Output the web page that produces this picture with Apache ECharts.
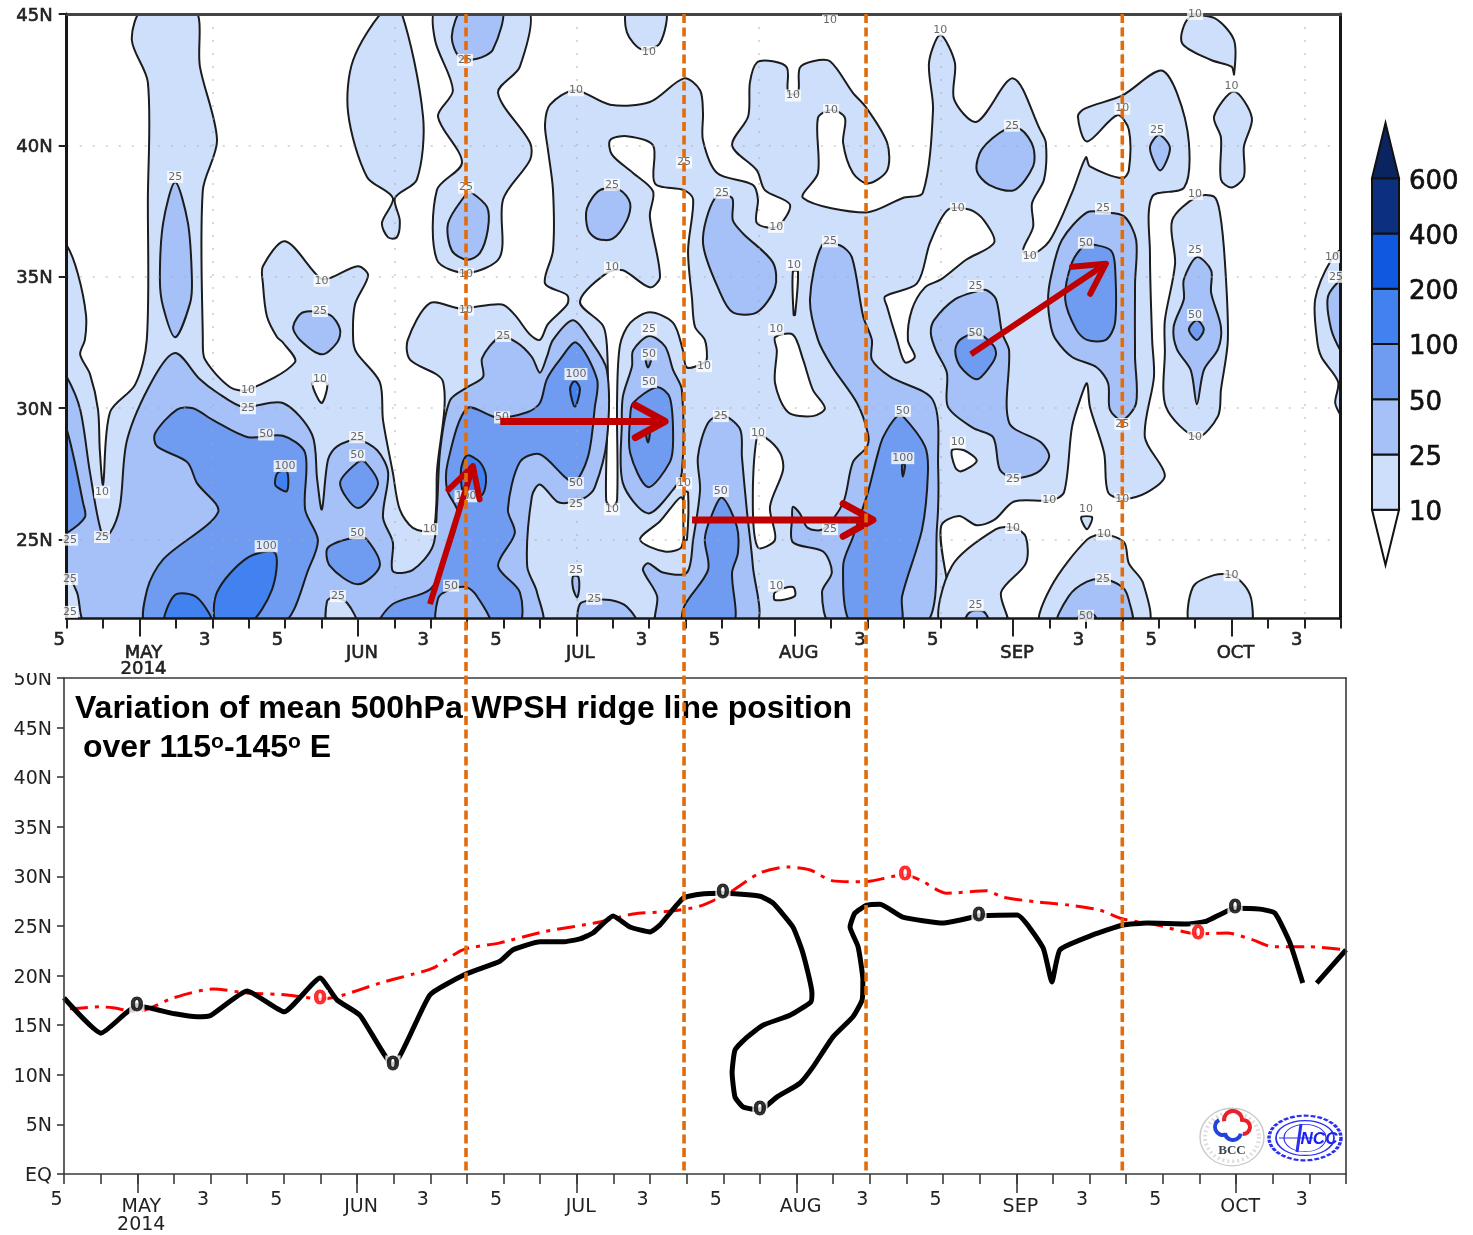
<!DOCTYPE html>
<html><head><meta charset="utf-8">
<style>html,body{margin:0;padding:0;background:#fff}#c{width:1473px;height:1235px}</style>
<script src="https://cdn.jsdelivr.net/npm/echarts@6/dist/echarts.min.js"></script>
</head><body><div id="c"></div>
<script>
// ---------- axis values (x = pentad index from the left edge, y = latitude) ----------
const pentadTicks = [0,1,2,3,4,5,6,7,8,9,10,11,12,13,14,15,16,17,18,19,20,21,22,23,24,25,26,27,28,29,30,31,32,33,34,35];
const pentadLabelAt = [0,4,6,10,12,16,18,22,24,28,30,34];
const pentadLabelText = ['5','3','5','3','5','3','5','3','5','3','5','3'];
const monthAt = [2,8,14,20,26,32];
const monthText = ['MAY','JUN','JUL','AUG','SEP','OCT'];
const yearText = '2014';
const gridDotsX = [4,9,14,19,24,29,34];
const gridDotsY = [25,30,35,40];
const topLatTicks = [25,30,35,40,45];
const bottomLatTicks = [0,5,10,15,20,25,30,35,40,45,50];

// ---------- contour regions, as [pentad, latitude] ----------
const contour10 = [
 [[-.2,21.7],[-.2,36.2],[0,36.2],[.31,35.1],[.53,33.55],[.5,32.6],[.37,32.05],[.64,31.3],[.86,29.95],[.91,28.4],[1,27.1],[1.19,29.85],[1.88,30.9],[2.2,32.6],[2.23,37.95],[2.23,42.4],[1.79,44],[2.1,45.2],[3.52,45.2],[3.66,43],[4.13,40.2],[3.74,38.3],[3.74,32.6],[3.8,31.85],[4.49,30.8],[4.98,30.7],[6.27,31.75],[5.94,32.5],[5.78,32.7],[5.5,33.5],[5.39,34.75],[5.39,35.4],[6,36.35],[6.96,34.95],[7.23,34.95],[8,35.4],[8.28,35.05],[7.92,33.95],[7.87,32.6],[7.97,32.1],[8.6,31],[8.69,29.55],[8.96,27.55],[9.15,26.15],[9.51,25.45],[10.04,25.35],[10.15,26.25],[10.17,27.55],[10.34,31],[9.43,31.85],[9.37,32.6],[9.98,34],[10.8,33.8],[11.96,33.95],[12.31,33.55],[12.73,32.8],[13,32.6],[13.22,33.2],[13.75,33.95],[13.75,34.3],[13.14,34.75],[13.36,36],[13.36,38.3],[13.22,39.85],[13.14,40.8],[13.28,41.55],[13.96,42.1],[14.93,41.55],[16.02,41.65],[16.96,42.55],[17.4,42.1],[17.48,41.25],[17.48,40.2],[17.87,38.95],[18.85,38.5],[18.99,37.95],[18.96,37.05],[19.51,36.9],[19.87,37.75],[19.18,38.3],[18.96,39.05],[18.28,40],[18.72,41.1],[18.77,42.4],[18.96,43.15],[19.4,43.2],[19.79,42.95],[19.82,42],[20.09,42],[20.14,42.95],[20.5,43.2],[20.97,43.2],[21.6,42],[21.96,41.45],[22.54,40.1],[22.54,39.05],[22.01,38.55],[21.6,38.95],[21.33,40.1],[21.38,41.05],[21.02,41.35],[20.64,41.05],[20.64,38.95],[20.23,38],[21.96,37.45],[22.97,38],[23.52,38.2],[23.8,41.35],[23.69,43.15],[24,44.2],[24.4,43.15],[24.38,41.75],[25,40.9],[26,42.55],[26.74,40.6],[26.9,40.1],[26.85,38.7],[26.52,37.8],[26.55,36.9],[26.27,36],[26.46,35.8],[26.99,36.35],[27.62,38.2],[28,39.55],[28.11,39.2],[29,38.75],[29.18,39.05],[29.18,40.6],[28.86,41.15],[28.03,40.15],[27.78,41.1],[27.97,41.4],[29,41.9],[30.06,42.85],[30.5,42],[30.83,40.1],[30.7,38.4],[29.82,38.05],[29.76,35.9],[29.82,32.6],[29.87,31.2],[29.62,28.9],[30.17,27.45],[29.68,26.8],[29.05,26.55],[28.61,26.8],[28.5,28.3],[28.11,30.05],[28.03,30.95],[27.87,30.45],[27.62,29.3],[27.4,26.8],[27.04,26.5],[26.03,26.45],[25.48,25.75],[25,25.55],[24.51,25.9],[24.02,25.5],[23.94,21.75]],
 [[10.17,45.2],[10.12,44],[10.61,42.1],[10.2,41.1],[10.86,39.35],[10.17,38.3],[10.17,35.65],[11,35.15],[11.9,35.75],[11.99,37.95],[12.73,39.45],[12.73,40.1],[11.85,42],[12.45,43],[12.65,45.2]],
 [[8.74,45.2],[7.87,43.25],[7.73,41.25],[8.25,38.8],[8.96,38],[8.66,37.05],[8.83,36.5],[9.07,36.5],[9.15,37.15],[9.02,38],[9.62,38.7],[9.79,41.1],[9.16,45.2]],
 [[15.42,45.2],[15.39,44.3],[15.8,43.65],[16.3,43.9],[16.44,45.2]],
 [[30.83,44.85],[30.64,43.9],[31.44,43.25],[32,43],[32.07,42.7],[32.07,44],[31.52,44.85]],
 [[32.07,42.05],[31.52,41.1],[31.71,40.3],[31.71,38.7],[32,38.4],[32.34,38.8],[32.34,39.95],[32.56,41.05]],
 [[31.05,38.05],[30.37,37.15],[30.45,35.5],[30.17,33.35],[30.17,32.2],[30.2,30.05],[31.05,28.9],[31.63,29.7],[31.71,30.7],[31.9,32.6],[31.82,35.55],[31.68,37.45],[31.52,38.05]],
 [[35.1,36.05],[34.74,35.65],[34.3,34.15],[34.35,32.6],[34.47,31.95],[34.93,31],[34.85,30.2],[35.03,29.65],[35.1,29.55]],
 [[24.02,21.75],[24.32,24],[25.53,25.4],[26.03,25.45],[26.35,25.1],[26.35,24.1],[25.67,23],[25.83,21.75]],
 [[26.77,21.75],[27.04,23.2],[28.03,25],[28.5,25.2],[29.05,24.9],[29.18,24.1],[29.57,23.35],[29.68,21.75]],
 [[30.89,21.75],[30.94,23.2],[31.52,23.65],[32,23.65],[32.39,23.2],[32.56,22.6],[32.5,21.75]],
 [[27.87,25.85],[28.03,25.4],[28.17,25.85]]
];
const belowTen = [
 [[14.1,34.05],[14.84,35.15],[15.28,35.25],[16.02,34.6],[16.3,35],[16.02,37.3],[16.11,38.25],[15.56,38.95],[14.98,39.65],[14.93,40.2],[15.39,40.35],[16.11,40],[16.16,38.55],[16.96,38.3],[17.21,37.95],[17.07,36],[17.18,34.15],[17.26,33.1],[17.53,32.6],[17.59,31.95],[17.53,31.75],[17.04,31.55],[16.93,32.2],[16.66,33.25],[16.02,33.65],[15.48,33.25],[15.2,32.4],[15.12,30.3],[15.12,26.5],[14.98,26.25],[14.82,26.5],[14.87,30.3],[14.84,32.4],[14.73,33.15]],
 [[22.48,34.25],[23.36,34.75],[23.72,36.3],[24.21,37.55],[24.82,37.55],[25.2,37.15],[25.48,36.3],[24.71,35.65],[24.02,34.9],[23.58,34.6],[23.22,33.75],[23.11,32.6],[23.3,31.95],[23.03,31.75],[22.81,32.6],[22.54,33.85]],
 [[19.46,32.7],[19.95,32.8],[20.23,31.85],[20.5,30.7],[20.83,30],[20.5,29.7],[19.82,29.85],[19.46,30.95],[19.51,32.2]],
 [[18.96,28.9],[18.85,26.25],[18.99,24.7],[19.46,25],[19.32,26.25],[19.68,27.65],[19.6,28.3],[19.18,28.9]],
 [[19.95,35.2],[19.97,33.55],[20.01,33.55],[20.09,35.2]],
 [[19.46,23],[19.46,22.7],[20,22.85],[19.95,23.2]],
 [[15.75,25],[16.3,25.7],[16.9,26.6],[16.9,24.75],[16.43,24.55]],
 [[24.32,28.4],[24.41,27.75],[24.57,27.6],[25,28],[24.65,28.4]],
 [[6.77,31],[6.82,30.6],[7.01,30.2],[7.15,30.95]],
 [[16.96,26.8],[17.07,26.8],[17.04,25],[16.96,25]]
];
const contour25 = [
 [[-.2,31.4],[0,31.2],[.37,29.95],[.64,27.55],[.97,25.2],[1.19,25.25],[1.46,26.25],[1.66,28.8],[2.37,31.1],[2.98,32.1],[3.66,31.1],[4.13,30.6],[4.85,30.05],[5.94,30.2],[6.74,29],[6.88,27.3],[7.01,26.15],[7.18,28.05],[7.43,28.55],[8,28.8],[8.53,28.4],[8.83,27.55],[8.69,25.85],[8.96,24.9],[8.96,23.8],[9.51,23.85],[10.06,24.75],[10.17,26.15],[10.26,28.4],[10.53,30.3],[11,30.8],[11.44,31.2],[11.41,31.9],[11.9,32.7],[12.37,32.5],[12.78,31.95],[13,31.35],[13.19,31.95],[13.36,32.6],[13.91,33.35],[14.38,32.6],[14.84,31.45],[14.84,28.8],[14.51,27],[14.24,26.6],[13.77,26.4],[13.47,26.45],[13,27.1],[12.78,26.65],[12.65,24],[12.92,23],[13,21.75],[.59,21.75],[.28,23],[0,23.75],[-.2,23.85]],
 [[15.56,32.2],[15.53,31.6],[15.28,30.45],[15.25,29.45],[15.28,27.15],[15.97,26],[16.66,26.9],[16.9,27.55],[16.9,30.7],[16.66,31.45],[16.44,32.35],[16,32.75]],
 [[16.22,21.75],[16.22,22.85],[15.83,23.85],[15.97,24.1],[16.38,23.75],[17.04,23.75],[17.21,25],[17.4,26.9],[17.34,28.15],[17.62,29.45],[18,29.75],[18.5,29.2],[18.55,28.15],[18.69,26.05],[18.85,24],[18.91,21.75]],
 [[21.02,21.75],[20.75,23],[21.02,23.75],[20.78,24.55],[19.95,24.9],[19.93,25.85],[19.95,26.25],[20.14,26],[20.36,25.45],[20.78,25.4],[21.33,26.4],[21.6,27.95],[21.99,28.55],[22.01,29.05],[21.71,30.2],[21.02,31.6],[20.64,32.6],[20.42,34.15],[20.75,36.2],[21.24,36.2],[21.57,35.75],[21.88,33.5],[22.12,32.6],[22.12,31.85],[22.62,31.2],[23.8,30.3],[23.94,27.8],[23.91,25.5],[23.58,21.75]],
 [[2.98,38.6],[2.65,37.05],[2.56,34.9],[2.65,33.85],[2.98,32.7],[3.39,34],[3.44,34.9],[3.33,37.05]],
 [[6.5,33.65],[6.22,33.1],[6.41,32.6],[7.01,32.05],[7.43,32.5],[7.51,33],[7.23,33.55]],
 [[14.65,38.3],[14.29,37.6],[14.32,36.8],[14.57,36.45],[15,36.45],[15.39,37.15],[15.48,37.8],[15.2,38.3]],
 [[17.81,38],[17.48,36.3],[17.95,34.4],[18.3,33.65],[18.96,33.65],[19.46,34.6],[19.4,35.55],[18.58,36.65],[18.3,37.15],[18.28,38]],
 [[25.78,40.6],[26.22,40.6],[26.55,39.95],[26.55,39.2],[26.03,38.3],[25.34,38.5],[25,39.05],[25.14,39.85]],
 [[30.01,40.4],[29.76,39.9],[30.04,39.05],[30.31,39.9]],
 [[28.5,37.45],[28.03,37.45],[27.34,36.4],[27.04,35],[26.96,34.1],[27.04,33.1],[27.18,32.6],[27.62,31.95],[28.3,31.55],[28.61,30.95],[28.66,29.95],[29,29.55],[29.38,30.2],[29.35,31.95],[29.35,34.75],[29.38,36.4],[29.05,37.3]],
 [[25,34.45],[24.41,34.15],[23.83,33.35],[23.74,32.85],[23.88,32.2],[24.18,31.35],[24.21,30.05],[24.9,29.25],[25.45,28.9],[25.64,27.65],[26.03,27.35],[26.66,27.55],[26.99,28.15],[26.77,28.7],[25.89,29.45],[25.89,32.2],[25.7,32.85],[25.53,34.15],[25.26,34.5]],
 [[10.89,45.2],[10.58,44.15],[10.8,43.35],[11.27,43.3],[11.71,43.65],[11.96,45.2]],
 [[11,38.2],[10.48,37.05],[10.58,36],[11,35.65],[11.35,35.9],[11.57,36.8],[11.55,37.65],[11.08,38.25]],
 [[13.91,23.6],[13.91,23.15],[14.02,22.8],[14.08,23.15],[14.05,23.6]],
 [[14.1,21.75],[14.1,22.55],[14.46,22.7],[14.93,22.7],[15.39,22.45],[15.67,21.75]],
 [[24.65,21.75],[24.82,22.25],[25.2,22.25],[25.34,21.75]],
 [[27.23,21.75],[27.53,22.85],[28.03,23.4],[28.5,23.5],[29,23.2],[29.18,22.7],[29.24,21.75]],
 [[31.05,35.75],[30.69,34.9],[30.69,34.15],[30.41,33.1],[30.5,32.25],[30.88,31.45],[31.05,30.15],[31.24,31.45],[31.63,32.25],[31.71,33.1],[31.44,34.4],[31.44,35.25]],
 [[35.03,34.95],[34.65,34.25],[34.74,33],[35.03,32.1],[35.1,32.1],[35.1,34.95]]
];
const patchBelow25 = [
 [[7.18,21.75],[7.15,22.65],[7.32,22.8],[7.7,22.6],[7.97,21.75]]
];
const contour50 = [
 [[-.2,29.35],[0,29.2],[.45,26.4],[.5,25.85],[0,25.25],[-.2,25.25]],
 [[3.03,29.95],[3.47,30],[4.02,29.55],[4.98,28.9],[5.94,28.95],[6.55,28.3],[6.55,26.15],[6.9,25],[6.68,24],[5.86,21.75],[2.21,21.75],[2.21,23.1],[2.65,24.25],[4.16,26.05],[3.58,27.15],[3.31,27.95],[2.48,28.55],[2.43,29.05]],
 [[8,27.95],[7.51,27.15],[8,26.2],[8.55,27.1],[8.2,27.95]],
 [[7.18,24.7],[7.23,24],[8,23.3],[8.6,24],[8.25,25],[7.97,25.1]],
 [[8.6,21.75],[8.96,22.55],[9.98,23.1],[10.39,24.25],[10.75,26],[10.45,26.9],[10.47,27.95],[11,30],[11.82,29.65],[12.65,29.85],[13,30.2],[13.19,31.1],[13.55,31.85],[14,32.5],[14.57,31.1],[14.51,30.05],[14.32,28.15],[13.91,27.2],[13,28.25],[12.45,27.95],[12.12,26.15],[12.31,25.25],[11.85,24],[12.45,23],[12.37,21.75]],
 [[15.97,27],[15.48,28.3],[15.48,29.7],[15.56,30.2],[16.22,30.8],[16.57,30.4],[16.66,28.8],[16.57,27.95]],
 [[15.91,31.85],[15.97,31.55],[16.05,31.85]],
 [[16.96,21.75],[16.96,22.45],[17.62,23.85],[17.53,25],[17.67,25.75],[18,26.6],[18.41,25.5],[18.44,24.5],[18.28,23.75],[18.3,21.75]],
 [[21.57,21.75],[21.33,24],[21.6,25.1],[22.01,26.8],[22.26,28.15],[22.43,28.9],[22.81,29.7],[22.97,29.7],[23.58,28.55],[23.66,27.55],[23.5,25.4],[22.95,22.85],[22.9,21.75]],
 [[28.3,36.2],[28.69,36],[28.8,35.4],[28.8,33.25],[28.55,32.6],[28.03,32.6],[27.73,33],[27.43,34.15],[27.62,35.55],[27.97,36.2]],
 [[25,32.85],[25.45,32.4],[25.53,32.05],[25.37,31.6],[25,31.1],[24.54,31.6],[24.41,32.2],[24.54,32.6]],
 [[27.78,21.75],[27.84,22.15],[28.22,22.15],[28.3,21.75]],
 [[31.05,33.35],[30.83,33],[31.05,32.6],[31.24,33]]
];
const patchBelow50 = [
 [[10.2,21.75],[10.2,22.75],[10.45,23.05],[10.97,23.2],[11.27,22.85],[11.63,21.75]]
];
const contour100 = [
 [[5.72,27.15],[5.8,27.55],[6.05,27.6],[6.05,26.85],[5.78,27]],
 [[4.13,21.75],[4.13,23],[4.95,24.3],[5.72,24.5],[5.64,23.1],[4.98,21.75]],
 [[2.7,21.75],[2.98,22.9],[3.58,22.8],[3.99,21.75]],
 [[11,28.2],[11.35,27.95],[11.52,27.4],[11.41,26.7],[10.94,26.65],[10.83,27.65]],
 [[13.91,31],[13.83,30.7],[13.96,30.05],[14.1,30.7],[14,31]],
 [[15.91,29.1],[15.97,28.7],[16.02,29.1]],
 [[22.95,27.85],[22.97,27.4],[23.03,27.85]]
];
const contourLabels = [
 [2.98,38.8,'25'],[7,34.85,'10'],[6.96,33.7,'25'],[6.96,31.1,'10'],[4.98,30.7,'10'],[4.98,30,'25'],[5.48,29,'50'],[6,27.8,'100'],[7.98,28.9,'25'],[7.98,28.2,'50'],[7.98,25.25,'50'],[5.48,24.75,'100'],[.97,25.1,'25'],[.97,26.8,'10'],[7.45,22.85,'25'],[9.98,25.4,'10'],[10.56,23.25,'50'],[10.97,26.65,'100'],[10.94,43.25,'25'],[10.97,38.4,'25'],[10.97,35.1,'10'],[10.97,33.75,'10'],[11.99,32.75,'25'],[11.96,29.65,'50'],[13.99,31.3,'100'],[13.99,27.15,'50'],[13.99,26.35,'25'],[14.98,26.15,'10'],[13.99,23.85,'25'],[14.49,22.75,'25'],[13.99,42.1,'10'],[14.98,35.35,'10'],[14.98,38.5,'25'],[16,43.55,'10'],[16.96,39.35,'25'],[16,33,'25'],[16,32.05,'50'],[16,31,'50'],[17.51,31.6,'10'],[16.96,27.15,'10'],[18,38.2,'25'],[17.97,29.7,'25'],[17.97,26.85,'50'],[18.99,29.05,'10'],[19.49,36.9,'10'],[19.95,41.9,'10'],[21,41.35,'10'],[20.97,44.75,'10'],[19.98,35.45,'10'],[19.49,33,'10'],[20.97,36.35,'25'],[20.97,25.4,'25'],[19.49,23.25,'10'],[24,44.4,'10'],[22.97,29.9,'50'],[22.97,28.1,'100'],[24.97,34.65,'25'],[24.48,37.6,'10'],[24.97,32.85,'50'],[24.48,28.7,'10'],[26,27.3,'25'],[26.99,26.5,'10'],[26.46,35.8,'10'],[25.97,40.75,'25'],[29,41.4,'10'],[28.47,37.6,'25'],[28,36.3,'50'],[29.95,40.6,'25'],[31,38.15,'10'],[31,36,'25'],[31,33.55,'50'],[31,28.9,'10'],[32,42.25,'10'],[31,45,'10'],[28,26.15,'10'],[28.5,25.2,'10'],[26,25.45,'10'],[29,26.55,'10'],[29,29.4,'25'],[28.47,23.5,'25'],[28,22.1,'50'],[24.97,22.5,'25'],[32,23.65,'10'],[34.76,35.75,'10'],[34.87,35,'25'],[.09,25,'25'],[.09,23.5,'25'],[.09,22.25,'25']
];
const levelColors = {c10:'#CDDFFB', c25:'#A6C1F7', c50:'#6F9CF0', c100:'#4181F0'};

// ---------- ridge-line series, [pentad, latitude], some of it runs backwards in time ----------
const ridgeObserved = [[0,17.75],[1.01,14.2],[1.99,16.95],[3.03,16.15],[3.63,15.85],[3.99,15.95],[5,18.45],[6.01,16.35],[6.99,19.75],[7.45,17.55],[8.08,16],[8.98,11],[9.99,18.05],[10.97,20.15],[11.9,21.45],[12.26,22.6],[13,23.4],[13.62,23.4],[14.09,23.7],[14.44,24.3],[14.99,26],[15.45,24.9],[16,24.4],[16.27,25.1],[16.9,27.8],[17.36,28.2],[17.99,28.3],[19,28],[19.36,27.3],[19.9,24.9],[20.17,22.3],[20.42,18.25],[20.39,17.35],[19.82,16],[19.08,15],[18.65,13.8],[18.32,12.5],[18.24,10.2],[18.32,7.75],[18.54,6.75],[19,6.45],[19.46,7.75],[20.09,9.15],[20.45,10.8],[20.99,13.8],[21.54,15.85],[21.79,17.55],[21.81,19.55],[21.68,22.9],[21.46,24.9],[21.59,26.3],[21.92,27.1],[22.28,27.2],[22.9,25.9],[24,25.3],[24.98,26],[26.02,26.1],[26.73,22.8],[26.97,19.35],[27.19,22.6],[28.09,24.1],[28.91,25.1],[29.57,25.3],[30.66,25.2],[31.2,25.5],[31.97,26.8],[32.65,26.7],[33.06,26.3],[33.47,23.3],[33.82,19.25],['-','-'],[34.2,19.25],[35,22.6]];
const ridgeClimatology = [[.16,16.65],[.98,16.85],[1.34,16.75],[1.99,16.35],[2.43,16.85],[2.98,17.75],[4.07,18.65],[5,18.25],[6.09,18.05],[6.99,17.65],[7.45,17.85],[8.63,19.25],[9.53,20.15],[10.07,20.75],[10.89,22.6],[11.9,23.3],[13.08,24.4],[14.63,25.4],[15.53,26.2],[16.54,26.5],[17.36,27],[18.18,28.4],[19,30.35],[19.74,30.95],[20.37,30.65],[20.99,29.55],[21.81,29.45],[22.96,30.15],[23.37,29.65],[24.1,28.3],[25.2,28.55],[25.63,27.9],[26.65,27.4],[27.46,27.1],[28.28,26.6],[28.91,25.7],[29.84,25.1],[30.96,24.2],[31.75,24.3],[32.46,23.6],[33.01,22.9],[34.02,22.9],[35,22.6]];
const zeroLabelsObserved = [[1.99,16.95],[8.98,11],[17.99,28.3],[19,6.45],[24.98,26],[31.97,26.8]];
const zeroLabelsClimatology = [[6.99,17.6],[22.96,30.15],[30.96,24.2]];

// ---------- annotations ----------
const onsetPentads = [10.97,16.96,21.96,29];
const arrowsFrom = [[9.98,22.55],[11.91,29.5],[17.18,25.75],[24.84,32.05]];
const arrowsTo = [[11.16,27.8],[16.44,29.5],[22.15,25.75],[28.55,35.5]];
const colorbarLevels = ['10','25','50','100','200','400','600'];
const colorbarColors = ['#FFFFFF','#CDDFFB','#A6C1F7','#6F9CF0','#4181F0','#1058E0','#0D2F80','#0A2460'];
const titleLine1 = 'Variation of mean 500hPa WPSH ridge line position';
const titleLine2 = 'over 115{s|o}-145{s|o} E';

// ---------- chart ----------
const FONT = 'DejaVu Sans';
const chart = echarts.init(document.getElementById('c'), null, {renderer:'canvas'});

function polySeries(list, fill, z){
  return {type:'custom', xAxisIndex:0, yAxisIndex:0, clip:true, silent:true, z:z,
    data:list.map((_,i)=>[i,0]),
    renderItem:(p,api)=>{
      const pts = list[api.value(0)].map(q=>api.coord(q));
      return {type:'polygon', shape:{points:pts, smooth:0.3},
        style:{fill:fill, stroke:'#1c1c1c', lineWidth:2}};
    }};
}
function pentadLabels(border, size){
  return {customValues:pentadLabelAt, fontFamily:FONT,
    formatter:v=>'{n|'+pentadLabelText[pentadLabelAt.indexOf(v)]+'}',
    rich:{n:{fontFamily:FONT,fontSize:size,color:'#222',textBorderColor:'#222',textBorderWidth:border,padding:[0,15,0,0]}}};
}
function monthLabels(border, size, lh){
  return {customValues:monthAt,
    formatter:v=>{const i=monthAt.indexOf(v);
      return i===0 ? '{m|'+monthText[i]+'}\n{m|'+yearText+'}' : '{m|'+monthText[i]+'}';},
    rich:{m:{fontFamily:FONT,fontSize:size,color:'#222',textBorderColor:'#222',textBorderWidth:border,lineHeight:lh,padding:[0,0,0,8]}}};
}
function sideLabels(values, textOf, size, color, border, dropBy, margin){
  return {customValues:values, margin:margin,
    formatter:v=>'{a|'+textOf(v)+'}',
    rich:{a:{fontFamily:FONT,fontSize:size,color:color,textBorderColor:color,textBorderWidth:border,padding:[dropBy,0,0,0]}}};
}
const noLabel = {show:false};
const topGrid = {left:66.7, top:14, width:1274, height:604.5};
const botGrid = {left:64, top:678, width:1282, height:496};
const LINE_TOP = {lineStyle:{color:'#161616',width:3}};
const LINE_BOT = {lineStyle:{color:'#3a3a3a',width:1.6}};

const option = {
  animation:false,
  backgroundColor:'#fff',
  title:[
    {text:titleLine1, left:75, top:693, padding:0, z:4,
     textStyle:{fontFamily:'Liberation Sans',fontWeight:'bold',fontSize:32,color:'#000'}},
    {text:titleLine2, left:83, top:732, padding:0, z:4,
     textStyle:{fontFamily:'Liberation Sans',fontWeight:'bold',fontSize:32,color:'#000',
       rich:{s:{fontFamily:'Liberation Sans',fontWeight:'bold',fontSize:21,color:'#000',padding:[0,0,12,0]}}}}
  ],
  grid:[topGrid, botGrid,
    {left:66.7, top:14, width:1274, height:1158},
    {left:1372, top:123, width:27, height:442}],
  xAxis:[
    {gridIndex:0,type:'value',position:'bottom',min:0,max:35,z:6,
     axisLine:{show:true,onZero:false,lineStyle:{color:'#161616',width:2.5}},
     axisTick:{show:true,customValues:pentadTicks,length:10,lineStyle:{color:'#222',width:2}},
     axisLabel:Object.assign({margin:13},pentadLabels(.6,18)),
     splitLine:{show:false}},
    {gridIndex:0,type:'value',position:'bottom',min:0,max:35,z:6,
     axisLine:{show:false,onZero:false},
     axisTick:{show:true,customValues:monthAt,length:18,lineStyle:{color:'#222',width:2}},
     axisLabel:Object.assign({margin:27},monthLabels(.6,18,16)),
     splitLine:{show:false}},
    {gridIndex:0,type:'value',position:'top',min:0,max:35,z:6,
     axisLine:{show:true,onZero:false,lineStyle:{color:'#444',width:3}},
     axisTick:{show:false,customValues:gridDotsX},axisLabel:noLabel,
     splitLine:{show:true,lineStyle:{color:'rgba(170,170,170,.6)',width:1.5,type:[2,11]}}},
    {gridIndex:1,type:'value',position:'bottom',min:0,max:35,z:6,
     axisLine:Object.assign({show:true,onZero:false},LINE_BOT),
     axisTick:{show:true,customValues:pentadTicks,length:10,lineStyle:{color:'#3a3a3a',width:1.6}},
     axisLabel:Object.assign({margin:17},pentadLabels(0,19)),
     splitLine:{show:false}},
    {gridIndex:1,type:'value',position:'bottom',min:0,max:35,z:6,
     axisLine:{show:false,onZero:false},
     axisTick:{show:true,customValues:monthAt,length:19,lineStyle:{color:'#3a3a3a',width:1.6}},
     axisLabel:Object.assign({margin:24},monthLabels(0,19,18)),
     splitLine:{show:false}},
    {gridIndex:1,type:'value',position:'top',min:0,max:35,z:6,
     axisLine:Object.assign({show:true,onZero:false},LINE_BOT),
     axisTick:{show:false},axisLabel:noLabel,splitLine:{show:false}},
    {gridIndex:2,type:'value',min:0,max:35,show:false},
    {gridIndex:3,type:'value',min:0,max:1,show:false}
  ],
  yAxis:[
    {gridIndex:0,type:'value',position:'left',min:22,max:45,z:6,
     axisLine:Object.assign({show:true,onZero:false},LINE_TOP),
     axisTick:{show:true,customValues:topLatTicks,length:8,lineStyle:{color:'#222',width:2}},
     axisLabel:sideLabels(topLatTicks,v=>v+'N',18,'#222',.6,4,14),
     splitLine:{show:false}},
    {gridIndex:0,type:'value',position:'right',min:22,max:45,z:6,
     axisLine:Object.assign({show:true,onZero:false},LINE_TOP),
     axisTick:{show:false,customValues:gridDotsY},axisLabel:noLabel,
     splitLine:{show:true,lineStyle:{color:'rgba(170,170,170,.6)',width:1.5,type:[2,11]}}},
    {gridIndex:1,type:'value',position:'left',min:0,max:50,z:6,
     axisLine:Object.assign({show:true,onZero:false},LINE_BOT),
     axisTick:{show:true,customValues:bottomLatTicks,length:7,lineStyle:{color:'#3a3a3a',width:1.6}},
     axisLabel:sideLabels(bottomLatTicks,v=>v===0?'EQ':v+'N',19,'#222',0,4,12),
     splitLine:{show:false}},
    {gridIndex:1,type:'value',position:'right',min:0,max:50,z:6,
     axisLine:Object.assign({show:true,onZero:false},LINE_BOT),
     axisTick:{show:false},axisLabel:noLabel,splitLine:{show:false}},
    {gridIndex:2,type:'value',min:0,max:1,show:false},
    {gridIndex:3,type:'value',position:'right',min:0,max:8,
     axisLine:{show:false,onZero:false},axisTick:{show:false},splitLine:{show:false},
     axisLabel:sideLabels([1,2,3,4,5,6,7],v=>colorbarLevels[v-1],26,'#111',.7,7,10)}
  ],
  series:[
    polySeries(contour10,levelColors.c10,2),
    polySeries(belowTen,'#fff',2.1),
    polySeries(contour25,levelColors.c25,2.2),
    polySeries(patchBelow25,levelColors.c10,2.3),
    polySeries(contour50,levelColors.c50,2.4),
    polySeries(patchBelow50,levelColors.c25,2.5),
    polySeries(contour100,levelColors.c100,2.6),
    {type:'scatter',xAxisIndex:0,yAxisIndex:0,z:7,silent:true,symbolSize:0,clip:true,
     data:contourLabels.map(d=>({value:[d[0],d[1]],label:{formatter:d[2]}})),
     label:{show:true,position:'inside',fontFamily:FONT,fontSize:11,color:'#444',
       backgroundColor:'#fff',padding:[1,1,0,1]}},
    // ridge lines
    {type:'line',name:'Observed ridge line',xAxisIndex:3,yAxisIndex:2,z:5,data:ridgeObserved,
     smooth:0.15,showSymbol:false,connectNulls:false,clip:true,
     lineStyle:{color:'#000',width:5}},
    {type:'line',name:'Climatology',xAxisIndex:3,yAxisIndex:2,z:4,data:ridgeClimatology,
     smooth:0.25,showSymbol:false,clip:true,
     lineStyle:{color:'#F00',width:3,type:[18,7,4,7]}},
    {type:'scatter',xAxisIndex:3,yAxisIndex:2,z:7,silent:true,symbolSize:0,data:zeroLabelsObserved,
     label:{show:true,position:'inside',formatter:'0',fontFamily:FONT,fontWeight:'bold',fontSize:19,color:'#000',
       textBorderColor:'#000',textBorderWidth:.8,backgroundColor:'#fff',padding:[2,1,-2,1]}},
    {type:'scatter',xAxisIndex:3,yAxisIndex:2,z:6,silent:true,symbolSize:0,data:zeroLabelsClimatology,
     label:{show:true,position:'inside',formatter:'0',fontFamily:FONT,fontWeight:'bold',fontSize:19,color:'#F00',
       textBorderColor:'#F00',textBorderWidth:.8,backgroundColor:'#fff',padding:[2,1,-2,1]}},
    // red arrows
    {type:'custom',xAxisIndex:0,yAxisIndex:0,z:9,clip:false,silent:true,
     data:arrowsFrom.map((_,i)=>[i,0]),
     renderItem:(p,api)=>{
       const i=api.value(0), a=api.coord(arrowsFrom[i]), b=api.coord(arrowsTo[i]);
       const t=Math.atan2(b[1]-a[1],b[0]-a[0]), L=34, w=0.5;
       const s={stroke:'#C00000',lineWidth:i===0||i===3?6:7,fill:null,lineCap:'round',lineJoin:'round'};
       return {type:'group',children:[
         {type:'line',shape:{x1:a[0],y1:a[1],x2:b[0],y2:b[1]},style:Object.assign({},s,{lineCap:'butt'})},
         {type:'polyline',shape:{points:[
           [b[0]-L*Math.cos(t-w),b[1]-L*Math.sin(t-w)],b,
           [b[0]-L*Math.cos(t+w),b[1]-L*Math.sin(t+w)]]},style:s}
       ]};
     }},
    // orange dashed lines across both panels
    {type:'custom',xAxisIndex:6,yAxisIndex:4,z:10,clip:false,silent:true,
     data:onsetPentads.map(x=>[x,0]),
     renderItem:(p,api)=>{
       const x=api.value(0), a=api.coord([x,1]), b=api.coord([x,0]);
       return {type:'line',shape:{x1:a[0],y1:a[1],x2:b[0],y2:b[1]},
         style:{stroke:'#E36C0A',lineWidth:3.6,lineDash:[9,4.5]}};
     }},
    // colour bar
    {type:'custom',xAxisIndex:7,yAxisIndex:5,z:3,clip:false,silent:true,
     data:colorbarColors.map((_,i)=>[i,0]),
     renderItem:(p,api)=>{
       const i=api.value(0), n=colorbarColors.length;
       let pts;
       if(i===0) pts=[[.5,0],[1,1],[0,1]];
       else if(i===n-1) pts=[[0,i],[1,i],[.5,i+1]];
       else pts=[[0,i],[1,i],[1,i+1],[0,i+1]];
       return {type:'polygon',shape:{points:pts.map(q=>api.coord(q))},
         style:{fill:colorbarColors[i],stroke:'#111',lineWidth:2}};
     }}
  ],
  graphic:{elements:[
    // the two panels were pasted together: labels are cut where they meet
    {type:'rect',z:50,silent:true,shape:{x:0,y:664,width:62,height:9},style:{fill:'#fff'}},
    {type:'rect',z:50,silent:true,shape:{x:118,y:674,width:66,height:3},style:{fill:'#fff'}},
    // BCC emblem
    {type:'group',z:8,silent:true,x:1232,y:1137,children:[
      {type:'circle',shape:{cx:0,cy:0,r:32},scaleY:.9,style:{fill:'#fff',stroke:'#c9c9c9',lineWidth:1.5}},
      {type:'circle',shape:{cx:0,cy:0,r:27},scaleY:.9,style:{fill:null,stroke:'#ddd',lineWidth:4,lineDash:[2,3]}},
      {type:'arc',shape:{cx:-9,cy:-10,r:8,startAngle:1.2,endAngle:4.2},style:{stroke:'#2244dd',lineWidth:4,fill:null}},
      {type:'arc',shape:{cx:1,cy:-17,r:9,startAngle:3,endAngle:6.5},style:{stroke:'#e8202a',lineWidth:4,fill:null}},
      {type:'arc',shape:{cx:11,cy:-10,r:7,startAngle:-1.5,endAngle:1.6},style:{stroke:'#e8202a',lineWidth:4,fill:null}},
      {type:'arc',shape:{cx:1,cy:-5,r:8,startAngle:0.2,endAngle:3,},style:{stroke:'#2244dd',lineWidth:4,fill:null}},
      {type:'text',style:{text:'BCC',x:0,y:14,fontFamily:'Liberation Serif',fontWeight:'bold',fontSize:13,fill:'#3a4550',align:'center',verticalAlign:'middle'}}
    ]},
    // NCC emblem
    {type:'group',z:8,silent:true,x:1305,y:1138,children:[
      {type:'circle',shape:{cx:0,cy:0,r:36},scaleY:.62,style:{fill:'#fff',stroke:'#2a2ff0',lineWidth:3.5,lineDash:[5,2]}},
      {type:'circle',shape:{cx:0,cy:0,r:29},scaleY:.6,style:{fill:null,stroke:'#2a2ff0',lineWidth:1.8}},
      {type:'circle',shape:{cx:0,cy:0,r:21},scaleY:.65,style:{fill:null,stroke:'#2a2ff0',lineWidth:1.2}},
      {type:'line',shape:{x1:-26,y1:0,x2:8,y2:0},style:{stroke:'#2a2ff0',lineWidth:1.2}},
      {type:'line',shape:{x1:-4,y1:-14,x2:-8,y2:14},style:{stroke:'#2a2ff0',lineWidth:3}},
      {type:'text',style:{text:'NCC',x:14,y:1,fontFamily:'Liberation Sans',fontWeight:'bold',fontStyle:'italic',fontSize:17,fill:'#1a22ee',align:'center',verticalAlign:'middle'}}
    ]}
  ]}
};
chart.setOption(option);
</script></body></html>
